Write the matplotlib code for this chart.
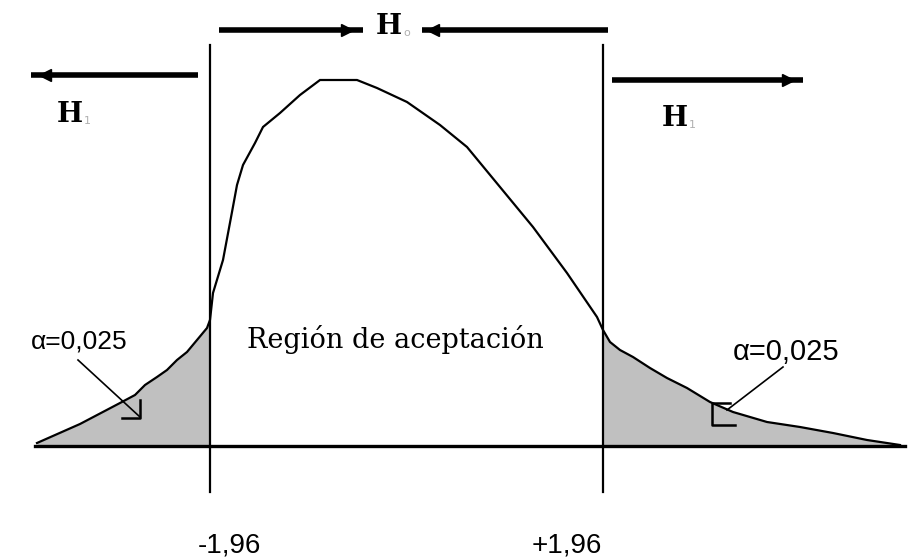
import numpy as np
import matplotlib.pyplot as plt

# curve (pixel coords, y down)
curve_x = [37, 80, 120, 135, 145, 157, 167, 177, 187, 197, 207, 210,
           213, 223, 232, 237, 243, 255, 263, 280, 300, 320, 357, 377,
           407, 440, 467, 500, 533, 567, 597, 603,
           610, 620, 633, 650, 667, 687, 710, 733, 767, 800, 833, 867, 900]
curve_y = [443, 424, 403, 395, 385, 377, 370, 360, 352, 340, 328, 320,
           293, 260, 212, 185, 165, 143, 127, 113, 95, 80, 80, 88,
           102, 125, 147, 187, 227, 273, 317, 330,
           342, 350, 357, 368, 378, 388, 402, 412, 422, 427, 433, 440, 445]

crit_x = [210, 603]
crit_labels = ['-1,96', '+1,96']
crit_label_x = [229, 567]
alpha_text = 'α=0,025'
region_text = 'Región de aceptación'

fig = plt.figure(figsize=(9.14, 5.6), dpi=100)
ax = fig.add_axes([0, 0, 1, 1])
ax.set_xlim(0, 914)
ax.set_ylim(560, 0)
ax.axis('off')

cx = np.array(curve_x)
cy = np.array(curve_y)
base_y = 446

# shaded tails
left = cx <= crit_x[0]
right = cx >= crit_x[1]
ax.fill_between(cx[left], cy[left], base_y, color='#c0c0c0', lw=0)
ax.fill_between(cx[right], cy[right], base_y, color='#c0c0c0', lw=0)

ax.plot(cx, cy, color='black', lw=1.6, solid_joinstyle='miter')

# baseline and critical lines
ax.plot([35, 905], [base_y, base_y], color='black', lw=2.4)
for x in crit_x:
    ax.plot([x, x], [45, 492], color='black', lw=1.6)

# arrows
def arrow(x0, x1, y, xm, mk):
    ax.plot([x0, x1], [y, y], color='black', lw=4, solid_capstyle='butt')
    ax.plot([xm], [y], marker=mk, color='black', ms=9)

arrow(219, 363, 30, 347, '>')
arrow(422, 608, 30, 433, '<')
arrow(31, 198, 75, 45, '<')
arrow(612, 803, 80, 788, '>')

# hypothesis labels
hfont = dict(family='DejaVu Serif', fontsize=20, fontweight='bold', color='black')
ax.text(389, 26, 'H', ha='center', va='center', **hfont)
ax.text(407, 33, 'o', ha='center', va='center', fontsize=8, color='#b0b0b0')
ax.text(70, 114, 'H', ha='center', va='center', **hfont)
ax.text(87, 121, '1', ha='center', va='center', fontsize=8, color='#b0b0b0')
ax.text(675, 118, 'H', ha='center', va='center', **hfont)
ax.text(692, 125, '1', ha='center', va='center', fontsize=8, color='#b0b0b0')

ax.text(395, 340, region_text, ha='center', va='center',
        family='DejaVu Serif', fontsize=19.5)

# alpha labels with pointer lines
ax.text(79, 341, alpha_text, ha='center', va='center',
        family='Liberation Sans', fontsize=19)
ax.plot([78, 140], [360, 417], color='black', lw=1.2)
ax.plot([140, 140, 122], [400, 418, 418], color='black', lw=1.8)

ax.text(786, 352, alpha_text, ha='center', va='center',
        family='Liberation Sans', fontsize=21)
ax.plot([783, 727], [367, 410], color='black', lw=1.2)
ax.plot([730, 712, 712, 735], [403, 403, 425, 425], color='black', lw=1.8)

# critical values
for lx, lab in zip(crit_label_x, crit_labels):
    ax.text(lx, 545, lab, ha='center', va='center',
            family='Liberation Sans', fontsize=20)

fig.savefig('out.png', dpi=100, facecolor='white')
